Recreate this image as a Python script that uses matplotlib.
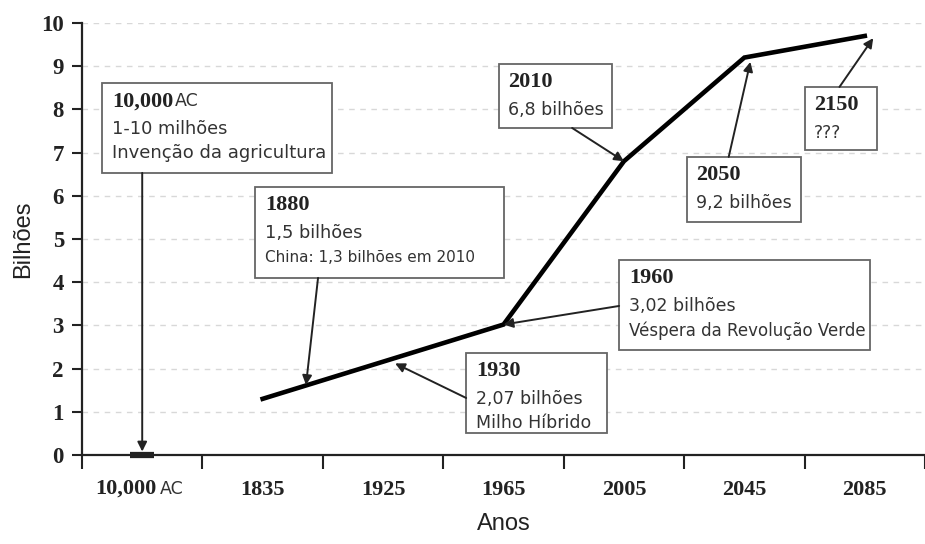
import numpy as np
import matplotlib.pyplot as plt
from matplotlib.patches import Rectangle

anos = ["10,000 AC", "1835", "1925", "1965", "2005", "2045", "2085"]

# curva da população (posição no eixo de categorias, bilhões)
pos_linha = [1, 3, 4, 5, 6]
bilhoes = [1.3, 3.02, 6.8, 9.2, 9.7]

# marca do 10,000 AC
pos_ac = [0]
bilhoes_ac = [0.01]

SERIF = 'Liberation Serif'
SANS = 'DejaVu Sans'

fig = plt.figure(figsize=(9.25, 5.44), dpi=100)
ax = fig.add_axes([82 / 925, 1 - 455 / 544, 1 - 82 / 925, 432 / 544])
ax.set_xlim(-0.5, 6.43)
ax.set_ylim(0, 10)

ax.plot(pos_linha, bilhoes, color='black', lw=3.3, solid_joinstyle='miter', zorder=3)
ax.plot(pos_ac, bilhoes_ac, marker='_', ms=17, mew=4.5, color='#222', clip_on=False, zorder=3)

# eixos
for s in ['top', 'right']:
    ax.spines[s].set_visible(False)
for s in ['left', 'bottom']:
    ax.spines[s].set_linewidth(1.6)
    ax.spines[s].set_color('#222')

ax.set_yticks(range(11))
ax.tick_params(axis='y', length=7, width=1.5, pad=6, color='#222')
for lab in ax.get_yticklabels():
    lab.set_fontfamily(SERIF)
    lab.set_fontweight('bold')
    lab.set_fontsize(16.5)
    lab.set_color('#222')

ax.set_xticks(np.arange(-0.5, 7, 1))
ax.set_xticklabels([])
ax.tick_params(axis='x', which='major', length=10, width=1.5, color='#222')
ax.set_xticks(range(len(anos)), minor=True)
ax.set_xticklabels([''] + anos[1:], minor=True, fontfamily=SERIF,
                   fontweight='bold', fontsize=16, color='#222')
ax.tick_params(axis='x', which='minor', length=0, pad=18)

# rótulo "10,000 AC" com fontes diferentes
num, sufixo = anos[0].split()
t = ax.annotate(num, xy=(0, 0), xycoords=ax.get_xaxis_transform(),
                xytext=(10, -24.5), textcoords='offset points', ha='right', va='center',
                fontfamily=SERIF, fontweight='bold', fontsize=16, color='#222')
ax.annotate(sufixo, xy=(1, 0.5), xycoords=t, xytext=(3, 0), textcoords='offset points',
            ha='left', va='center', fontfamily=SANS, fontsize=12.5, color='#333')

ax.yaxis.grid(True, ls=(0, (4, 4)), color='#d8d8d8', lw=1)
ax.set_axisbelow(True)

ax.set_ylabel('Bilhões', fontfamily='Liberation Sans', fontsize=17, labelpad=5, color='#222')
ax.set_xlabel('Anos', fontfamily='Liberation Sans', fontsize=17, labelpad=9, color='#222')


def caixa(x0, x1, y_top, y_bot, titulo, linhas, seta_de, seta_para, sufixo=None):
    ax.add_patch(Rectangle((x0, y_bot), x1 - x0, y_top - y_bot, facecolor='white',
                           edgecolor='#666', lw=1.3, zorder=4, clip_on=False))
    t = ax.annotate(titulo, xy=(x0, y_top), xytext=(7, -13), textcoords='offset points',
                    ha='left', va='center', fontfamily=SERIF, fontweight='bold',
                    fontsize=16, color='#222', zorder=5, annotation_clip=False)
    if sufixo:
        ax.annotate(sufixo, xy=(1, 0.5), xycoords=t, xytext=(1, 0), textcoords='offset points',
                    ha='left', va='center', fontfamily=SANS, fontsize=12.5, color='#333', zorder=5)
    for i, (txt, tam) in enumerate(linhas):
        ax.annotate(txt, xy=(x0, y_top), xytext=(7, -33 - 17.5 * i), textcoords='offset points',
                    ha='left', va='center', fontfamily=SANS, fontsize=tam, color='#333',
                    zorder=5, annotation_clip=False)
    ax.annotate('', xy=seta_para, xytext=seta_de,
                arrowprops=dict(arrowstyle='-|>', color='#222', lw=1.4, mutation_scale=14,
                                shrinkA=0, shrinkB=0),
                zorder=6, annotation_clip=False)


caixa(-0.33, 1.58, 8.61, 6.53, '10,000', [('1-10 milhões', 12.8), ('Invenção da agricultura', 13)],
      (0.0, 6.53), (0.0, 0.08), sufixo='AC')
caixa(0.94, 3.0, 6.20, 4.10, '1880', [('1,5 bilhões', 12.8), ('China: 1,3 bilhões em 2010', 11)],
      (1.46, 4.10), (1.36, 1.62))
caixa(2.69, 3.86, 2.36, 0.51, '1930', [('2,07 bilhões', 12.5), ('Milho Híbrido', 12.5)],
      (2.69, 1.32), (2.10, 2.12))
caixa(3.96, 6.04, 4.51, 2.43, '1960', [('3,02 bilhões', 12.5), ('Véspera da Revolução Verde', 12)],
      (3.96, 3.45), (3.0, 3.02))
caixa(2.96, 3.90, 9.05, 7.57, '2010', [('6,8 bilhões', 12.5)],
      (3.57, 7.57), (4.0, 6.8))
caixa(4.52, 5.47, 6.90, 5.39, '2050', [('9,2 bilhões', 12.5)],
      (4.87, 6.90), (5.05, 9.1))
caixa(5.50, 6.10, 8.52, 7.06, '2150', [('???', 12.5)],
      (5.79, 8.52), (6.07, 9.65))

fig.savefig('out.png', dpi=100)
